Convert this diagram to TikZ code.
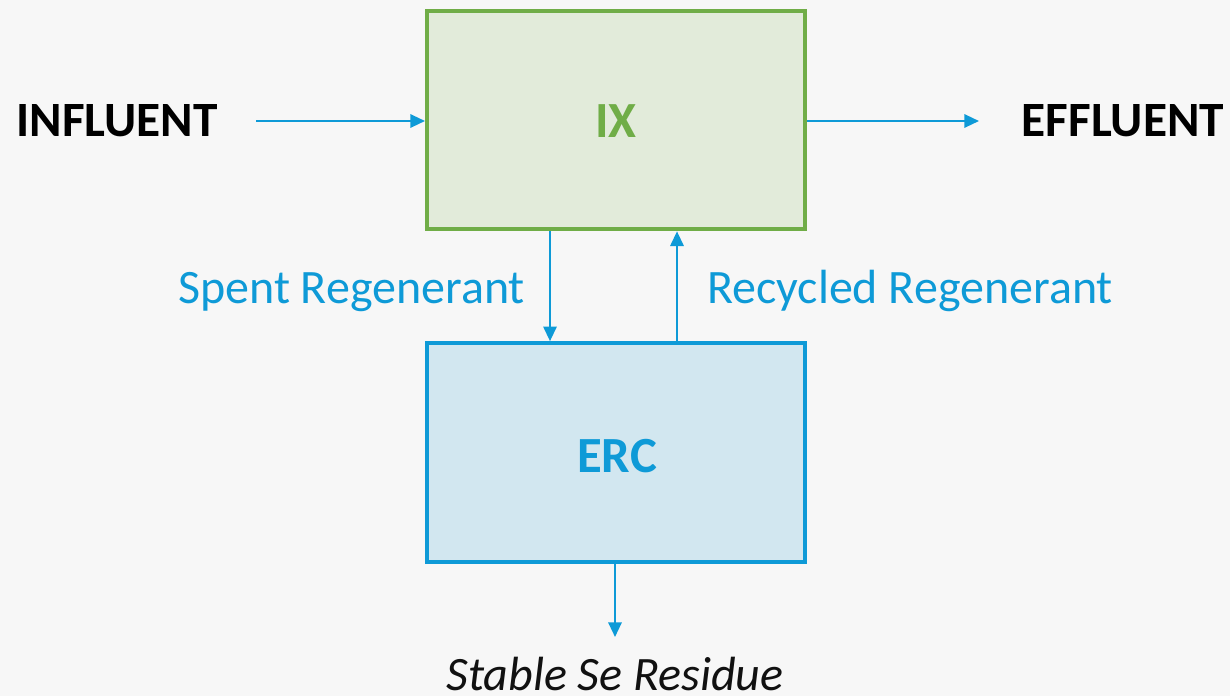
\documentclass[tikz,border=0pt]{standalone}
\usepackage{fontspec}
\setmainfont{Carlito}
\usetikzlibrary{arrows.meta}
\definecolor{bg}{HTML}{F7F7F7}
\definecolor{ixgreen}{HTML}{70AD47}
\definecolor{ixfill}{HTML}{E2EBDA}
\definecolor{ercblue}{HTML}{0E9AD7}
\definecolor{ercfill}{HTML}{D2E7F0}
\definecolor{txtdark}{HTML}{111111}
\tikzset{
  flow/.style={draw=ercblue, line width=1.6pt, -{Triangle[length=11pt,width=10pt]}},
  box/.style={line width=3pt, minimum width=283.5pt, minimum height=164pt, inner sep=0pt},
  endlabel/.style={font=\fontsize{37}{44}\selectfont\bfseries, text=black, anchor=base, inner sep=0pt},
  flowlabel/.style={font=\fontsize{36}{43}\selectfont, text=ercblue, anchor=base, inner sep=0pt},
  boxlabel/.style={font=\fontsize{38}{45}\selectfont\bfseries, anchor=base, inner sep=0pt},
}
\begin{document}
\begin{tikzpicture}[x=0.75pt,y=-0.75pt]
\fill[bg] (0,0) rectangle (1230,696);
\useasboundingbox (0,0) rectangle (1230,696);
\node[box, draw=ixgreen, fill=ixfill] (ix) at (616,120) {};
\node[boxlabel, text=ixgreen] (ixlab) at (616,137) {IX};
\node[box, draw=ercblue, fill=ercfill] (erc) at (616,452.5) {};
\node[boxlabel, text=ercblue] (erclab) at (617,472) {ERC};
\node[endlabel] (inf) at (117,136) {INFLUENT};
\node[endlabel] (eff) at (1123,136) {EFFLUENT};
\coordinate (infs) at (256,121);
\coordinate (effe) at (979,121);
\draw[flow] (infs) -- (ix.west |- infs);
\draw[flow] (ix.east |- effe) -- (effe);
\coordinate (sp) at (550,0);
\coordinate (rc) at (677,0);
\draw[flow] (ix.south -| sp) -- (erc.north -| sp);
\draw[flow] (erc.north -| rc) -- (ix.south -| rc);
\node[flowlabel] (spl) at (351.5,303) {Spent Regenerant};
\node[flowlabel] (rcl) at (910,303) {Recycled Regenerant};
\coordinate (res) at (615,637);
\draw[flow] (erc.south -| res) -- (res);
\node[font=\fontsize{36}{43}\selectfont\itshape, text=txtdark, anchor=base, inner sep=0pt] (resl) at (615,690) {Stable Se Residue};
\end{tikzpicture}
\end{document}
